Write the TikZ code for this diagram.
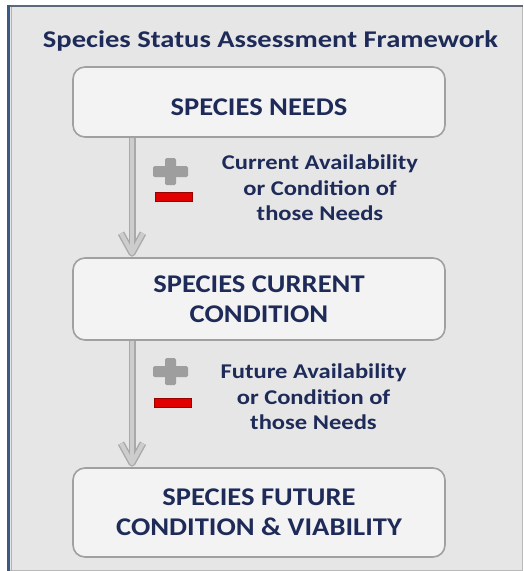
\documentclass[tikz,border=0pt]{standalone}
\usepackage{fontspec}
\setmainfont{Carlito}[FakeStretch=1.1]
\newfontfamily\headfont{Carlito}[FakeStretch=1.19]
\newfontfamily\boxfont{Carlito}[FakeStretch=1.12]
\newfontfamily\notefont{Carlito}[FakeStretch=1.17]
\usetikzlibrary{calc}
\definecolor{navy}{HTML}{1E2B58}
\definecolor{panel}{HTML}{E6E6E6}
\definecolor{boxfill}{HTML}{F3F3F3}
\definecolor{boxline}{HTML}{A0A0A0}
\definecolor{shaftdark}{HTML}{A9A9A9}
\definecolor{shaftlight}{HTML}{CDCDCD}
\definecolor{plusgray}{HTML}{9E9E9E}
\definecolor{minusred}{HTML}{E10000}
\definecolor{frameblue}{HTML}{3A5A85}
\definecolor{frametop}{HTML}{5E6878}
\begin{document}
\begin{tikzpicture}[x=1pt,y=-1pt,
 stagebox/.style={draw=boxline, line width=1.6pt, fill=boxfill, rounded corners=12pt, minimum width=372pt, align=center, text=navy, font=\boxfont\bfseries\fontsize{25.5}{30}\selectfont, inner sep=0pt},
 note/.style={align=center, text=navy, font=\notefont\bfseries\fontsize{21}{25.5}\selectfont, inner sep=0pt},
 headtext/.style={text=navy, font=\headfont\bfseries\fontsize{24}{28}\selectfont, inner sep=0pt},
 shaftout/.style={draw=shaftdark, line width=7pt, line join=round},
 shaftin/.style={draw=shaftlight, line width=4.2pt, line join=round},
 plusbar/.style={fill=plusgray, draw=none, inner sep=0pt, rounded corners=1.5pt},
 minusbar/.style={fill=minusred, draw=red!60!black, line width=0.5pt, inner sep=0pt, minimum width=37pt, minimum height=9pt},
]
\useasboundingbox (0,0) rectangle (523,571);
\fill[white] (0,0) rectangle (523,571);
% panel
\fill[panel] (8,6) rectangle (523,571);
\draw[gray!55, line width=1pt] (522.5,6) -- (522.5,570.5) -- (8,570.5);
\draw[frametop, line width=2pt] (7,6) -- (523,6);
\draw[gray!60, line width=1pt] (11,7) -- (11,571);
\draw[frameblue, line width=3pt] (8.5,5) -- (8.5,571);
% title
\node[headtext, anchor=base] (ttl) at (270.5,47) {Species Status Assessment Framework};
% boxes
\node[stagebox, minimum height=70pt, text height=26pt, text depth=0pt] (b1) at (259,102) {SPECIES NEEDS};
\node[stagebox, minimum height=82pt] (b2) at (259,299) {SPECIES CURRENT\\CONDITION};
\node[stagebox, minimum height=89pt] (b3) at (259,512.5) {SPECIES FUTURE\\CONDITION \& VIABILITY};
% connectors
\coordinate (ax) at (132,0);
\path (b1.south -| ax) coordinate (s1) (b2.north -| ax) coordinate (e1);
\path (b2.south -| ax) coordinate (s2) (b3.north -| ax) coordinate (e2);
\path ($(e1)+(0,-4)$) coordinate (t1) ($(e2)+(0,-4)$) coordinate (t2);
\draw[shaftout] (s1) -- (t1);
\draw[shaftout] ($(t1)+(-11,-20)$) -- (t1) -- ($(t1)+(11,-20)$);
\draw[shaftin] (s1) -- (t1);
\draw[shaftin] ($(t1)+(-11,-20)$) -- (t1) -- ($(t1)+(11,-20)$);
\draw[shaftout] (s2) -- (t2);
\draw[shaftout] ($(t2)+(-11,-20)$) -- (t2) -- ($(t2)+(11,-20)$);
\draw[shaftin] (s2) -- (t2);
\draw[shaftin] ($(t2)+(-11,-20)$) -- (t2) -- ($(t2)+(11,-20)$);
% plus / minus signs
\node[plusbar, minimum width=35pt, minimum height=11pt] (p1h) at (170.5,171.5) {};
\node[plusbar, minimum width=11pt, minimum height=27pt] (p1v) at (170.5,171.5) {};
\node[minusbar] (m1) at (173.5,196.5) {};
\node[plusbar, minimum width=35pt, minimum height=11pt] (p2h) at (170.5,371.5) {};
\node[plusbar, minimum width=11pt, minimum height=27pt] (p2v) at (170.5,371.5) {};
\node[minusbar] (m2) at (173,402.5) {};
% notes
\node[note] (n1) at (320,188) {Current Availability\\or Condition of\\those Needs};
\node[note] (n2) at (313.5,397) {Future Availability\\or Condition of\\those Needs};
\end{tikzpicture}
\end{document}
